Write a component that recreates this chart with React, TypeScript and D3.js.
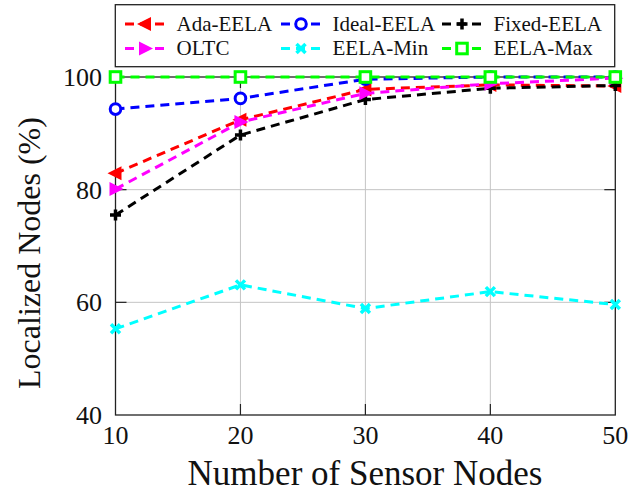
import React, { useEffect, useRef } from 'react';
import * as d3 from 'd3';

const nodes = [10, 20, 30, 40, 50];
const adaEela = [82.9, 92.4, 97.8, 98.6, 98.4];
const idealEela = [94.3, 96.2, 99.6, 100, 100];
const fixedEela = [75.5, 89.7, 96.0, 98.0, 98.5];
const oltc = [80.1, 92.0, 97.1, 98.8, 99.8];
const eelaMin = [55.3, 63.1, 58.9, 61.9, 59.6];
const eelaMax = [100, 100, 100, 100, 100];
const xTicks = [10, 20, 30, 40, 50];
const yTicks = [40, 60, 80, 100];

type MarkerKind = 'triL' | 'triR' | 'circle' | 'square' | 'plus' | 'x';

const series: { name: string; values: number[]; color: string; marker: MarkerKind }[] = [
  { name: 'Ada-EELA', values: adaEela, color: '#ff0000', marker: 'triL' },
  { name: 'Ideal-EELA', values: idealEela, color: '#0000ff', marker: 'circle' },
  { name: 'Fixed-EELA', values: fixedEela, color: '#000000', marker: 'plus' },
  { name: 'OLTC', values: oltc, color: '#ff00ff', marker: 'triR' },
  { name: 'EELA-Min', values: eelaMin, color: '#00ffff', marker: 'x' },
  { name: 'EELA-Max', values: eelaMax, color: '#00ff00', marker: 'square' },
];

const SERIF = "'Liberation Serif', 'Nimbus Roman', 'FreeSerif', 'Times'";

function Marker({ kind, cx, cy, color }: { kind: MarkerKind; cx: number; cy: number; color: string }) {
  switch (kind) {
    case 'triL':
      return <path d={`M${cx - 8},${cy} L${cx + 6},${cy - 7} L${cx + 6},${cy + 7} Z`} fill={color} />;
    case 'triR':
      return <path d={`M${cx + 8},${cy} L${cx - 6},${cy - 7} L${cx - 6},${cy + 7} Z`} fill={color} />;
    case 'circle':
      return <circle cx={cx} cy={cy} r={5.3} fill="white" stroke={color} strokeWidth={3} />;
    case 'square':
      return <rect x={cx - 5.3} y={cy - 5.3} width={10.6} height={10.6} fill="white" stroke={color} strokeWidth={3} />;
    case 'plus':
      return (
        <path d={`M${cx - 5.5},${cy} H${cx + 5.5} M${cx},${cy - 5.5} V${cy + 5.5}`} stroke={color} strokeWidth={3.5} fill="none" />
      );
    case 'x':
      return (
        <path
          d={`M${cx - 4.5},${cy - 4.5} L${cx + 4.5},${cy + 4.5} M${cx - 4.5},${cy + 4.5} L${cx + 4.5},${cy - 4.5}`}
          stroke={color}
          strokeWidth={3.5}
          fill="none"
        />
      );
  }
  return null;
}

const W = 630;
const H = 494;
const left = 115.5;
const right = 615.3;
const top = 77;
const bottom = 415;
const legendCols = [145, 301, 462];
const legendRows = [24, 48.5];

export default function App() {
  const textRef = useRef<SVGGElement | null>(null);

  const x = d3.scaleLinear().domain([10, 50]).range([left, right]);
  const y = d3.scaleLinear().domain([40, 100]).range([bottom, top]);

  const line = d3
    .line<number>()
    .x((_, i) => x(nodes[i]))
    .y((d) => y(d));

  const tickLen = 11;
  const dash = '9 6';

  useEffect(() => {
    const draw = () => {
      if (!textRef.current) return;
      const g = d3.select(textRef.current);
      g.selectAll('*').remove();
      g.selectAll('text.xl')
        .data(xTicks)
        .enter()
        .append('text')
        .attr('class', 'xl')
        .attr('x', (d) => x(d))
        .attr('y', 443.5)
        .attr('text-anchor', 'middle')
        .attr('font-size', 26)
        .text((d) => String(d));
      g.selectAll('text.yl')
        .data(yTicks)
        .enter()
        .append('text')
        .attr('class', 'yl')
        .attr('x', 102)
        .attr('y', (d) => y(d) + 9)
        .attr('text-anchor', 'end')
        .attr('font-size', 26)
        .text((d) => String(d));
      g.append('text')
        .attr('x', 365)
        .attr('y', 485)
        .attr('text-anchor', 'middle')
        .attr('font-size', 35)
        .text('Number of Sensor Nodes');
      g.append('text')
        .attr('transform', 'translate(40,253) rotate(-90)')
        .attr('text-anchor', 'middle')
        .attr('font-size', 32)
        .text('Localized Nodes (%)');
      g.selectAll('text.lg')
        .data(series)
        .enter()
        .append('text')
        .attr('class', 'lg')
        .attr('x', (_, i) => legendCols[i % 3] + 31.5)
        .attr('y', (_, i) => legendRows[Math.floor(i / 3)] + 6.5)
        .attr('font-size', 21)
        .text((d) => d.name);
    };
    draw();
    const f = (document as any).fonts;
    if (f && f.load) {
      Promise.all([
        f.load("21px 'Liberation Serif'", 'Ada-EELA Ideal Fixed OLTC Min Max'),
        f.load("26px 'Liberation Serif'", '0123456789'),
        f.load("32px 'Liberation Serif'", 'Localized Nodes (%)'),
        f.load("35px 'Liberation Serif'", 'Number of Sensor Nodes'),
      ])
        .then(() => draw())
        .catch(() => {});
    }
    const id = setTimeout(draw, 100);
    return () => clearTimeout(id);
  }, []);

  return (
    <svg width={W} height={H} fontFamily={SERIF} style={{ position: 'absolute', left: 0, top: 0, fontFamily: SERIF }}>
      {xTicks.slice(1, -1).map((t) => (
        <line key={'gx' + t} x1={x(t)} x2={x(t)} y1={top} y2={bottom} stroke="#c4c4c4" strokeWidth={1} />
      ))}
      {yTicks.slice(1, -1).map((t) => (
        <line key={'gy' + t} x1={left} x2={right} y1={y(t)} y2={y(t)} stroke="#c4c4c4" strokeWidth={1} />
      ))}
      {xTicks.slice(1, -1).map((t) => (
        <g key={'tx' + t}>
          <line x1={x(t)} x2={x(t)} y1={bottom} y2={bottom - tickLen} stroke="#222" strokeWidth={1.2} />
          <line x1={x(t)} x2={x(t)} y1={top} y2={top + tickLen} stroke="#222" strokeWidth={1.2} />
        </g>
      ))}
      {yTicks.slice(1, -1).map((t) => (
        <g key={'ty' + t}>
          <line x1={left} x2={left + tickLen} y1={y(t)} y2={y(t)} stroke="#222" strokeWidth={1.2} />
          <line x1={right} x2={right - tickLen} y1={y(t)} y2={y(t)} stroke="#222" strokeWidth={1.2} />
        </g>
      ))}
      <rect x={left} y={top} width={right - left} height={bottom - top} fill="none" stroke="#222" strokeWidth={1.3} />

      {series.map((s) => (
        <path key={'l' + s.name} d={line(s.values) || ''} fill="none" stroke={s.color} strokeWidth={3} strokeDasharray={dash} />
      ))}
      {series.map((s) => (
        <g key={'m' + s.name}>
          {s.values.map((v, i) => (
            <Marker key={i} kind={s.marker} cx={x(nodes[i])} cy={y(v)} color={s.color} />
          ))}
        </g>
      ))}

      <rect x={115.3} y={4.7} width={499.4} height={62} fill="white" stroke="#222" strokeWidth={1.3} />
      {series.map((s, i) => {
        const cx = legendCols[i % 3];
        const cy = legendRows[Math.floor(i / 3)];
        return (
          <g key={'lg' + s.name}>
            <line x1={cx - 20} x2={cx + 20} y1={cy} y2={cy} stroke={s.color} strokeWidth={3} strokeDasharray={dash} />
            <Marker kind={s.marker} cx={cx} cy={cy} color={s.color} />
          </g>
        );
      })}
      <g ref={textRef} fill="#111" />
    </svg>
  );
}
